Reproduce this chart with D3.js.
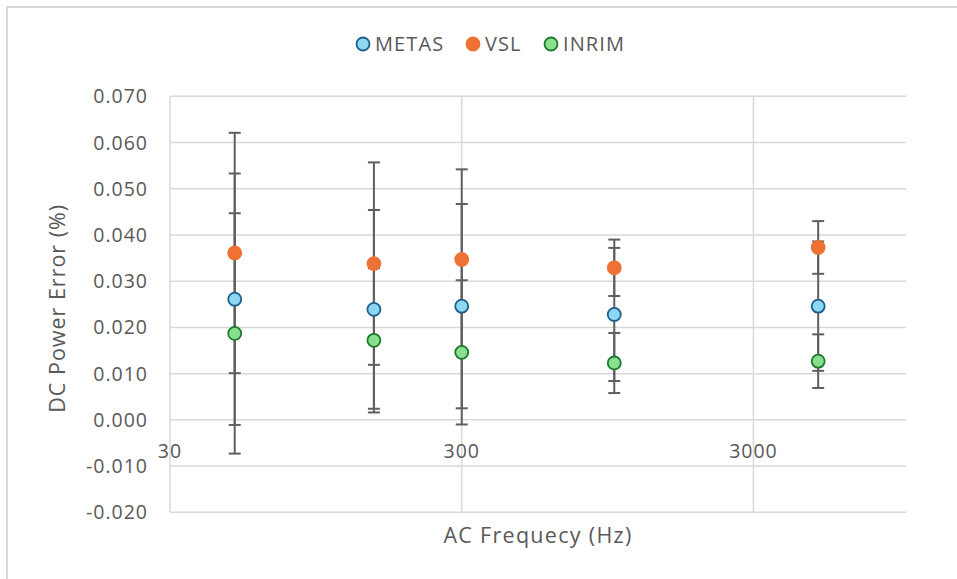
<!DOCTYPE html>
<html lang="en">
<head>
    <meta charset="UTF-8">
    <script src="https://d3js.org/d3.v7.min.js"></script>
    <style>
        body { margin: 0; background: #fff; }
        text { font-family: "Open Sans", Roboto, sans-serif; fill: #595959; }
    </style>
</head>
<body>
    <svg width="957" height="579" id="chart"></svg>

    <script>
    // Data
    const frequencies = [50, 150, 300, 1000, 5000];
    const seriesNames = ["METAS", "VSL", "INRIM"];
    const metasValues = [0.0261, 0.0239, 0.0246, 0.0228, 0.0246];
    const metasErrors = [0.0272, 0.0215, 0.0221, 0.0144, 0.0140];
    const vslValues = [0.0361, 0.0338, 0.0347, 0.0329, 0.0373];
    const vslErrors = [0.0260, 0.0219, 0.0195, 0.0061, 0.0057];
    const inrimValues = [0.0187, 0.0172, 0.0146, 0.0123, 0.0127];
    const inrimErrors = [0.0260, 0.0156, 0.0156, 0.0065, 0.0058];
    const xTicks = [30, 300, 3000];
    const yTicks = [-0.02, -0.01, 0, 0.01, 0.02, 0.03, 0.04, 0.05, 0.06, 0.07];

    const series = [
        { name: "METAS", values: metasValues, errors: metasErrors, fill: "#8dd6f4", stroke: "#1d5f8a" },
        { name: "VSL", values: vslValues, errors: vslErrors, fill: "#ed7234", stroke: "#ed7234" },
        { name: "INRIM", values: inrimValues, errors: inrimErrors, fill: "#88e08f", stroke: "#1e7a2c" }
    ];

    const svg = d3.select("#chart");
    const plot = { left: 170, right: 906, top: 96.3, bottom: 512.3 };

    // outer chart border
    svg.append("rect")
        .attr("x", 7).attr("y", 7)
        .attr("width", 980).attr("height", 600)
        .attr("fill", "none")
        .attr("stroke", "#d9d9d9")
        .attr("stroke-width", 2);

    const xScale = d3.scaleLog().domain([30, 10000]).range([plot.left, plot.right]);
    const yScale = d3.scaleLinear().domain([-0.02, 0.07]).range([plot.bottom, plot.top]);

    // horizontal gridlines
    svg.append("g")
        .selectAll("line")
        .data(yTicks)
        .enter().append("line")
        .attr("x1", plot.left).attr("x2", plot.right)
        .attr("y1", d => yScale(d)).attr("y2", d => yScale(d))
        .attr("stroke", "#d9d9d9")
        .attr("stroke-width", 1.5);

    // vertical gridlines
    svg.append("g")
        .selectAll("line")
        .data(xTicks)
        .enter().append("line")
        .attr("x1", d => xScale(d)).attr("x2", d => xScale(d))
        .attr("y1", plot.top).attr("y2", plot.bottom)
        .attr("stroke", "#d9d9d9")
        .attr("stroke-width", 1.5);

    // y tick labels
    svg.append("g")
        .selectAll("text")
        .data(yTicks)
        .enter().append("text")
        .attr("x", 148)
        .attr("y", d => yScale(d) + 7)
        .attr("text-anchor", "end")
        .style("font-size", "19.5px")
        .style("letter-spacing", "1px")
        .text(d => d3.format(".3f")(d).replace("−", "-"));

    // x tick labels (next to the axis at y = 0)
    svg.append("g")
        .selectAll("text")
        .data(xTicks)
        .enter().append("text")
        .attr("x", d => xScale(d))
        .attr("y", yScale(0) + 38)
        .attr("text-anchor", "middle")
        .style("font-size", "19.5px")
        .style("letter-spacing", "1px")
        .text(d => d);

    // error bars
    const capHalf = 6;
    series.forEach(function(s) {
        const g = svg.append("g");
        frequencies.forEach(function(f, i) {
            const x = xScale(f);
            const yTop = yScale(s.values[i] + s.errors[i]);
            const yBot = yScale(s.values[i] - s.errors[i]);
            g.append("line")
                .attr("x1", x).attr("x2", x).attr("y1", yTop).attr("y2", yBot)
                .attr("stroke", "#5f5f5f").attr("stroke-width", 2);
            [yTop, yBot].forEach(function(y) {
                g.append("line")
                    .attr("x1", x - capHalf).attr("x2", x + capHalf)
                    .attr("y1", y).attr("y2", y)
                    .attr("stroke", "#5f5f5f").attr("stroke-width", 2);
            });
        });
    });

    // markers
    series.forEach(function(s) {
        svg.append("g")
            .selectAll("circle")
            .data(frequencies)
            .enter().append("circle")
            .attr("cx", d => xScale(d))
            .attr("cy", (d, i) => yScale(s.values[i]))
            .attr("r", 6.5)
            .attr("fill", s.fill)
            .attr("stroke", s.stroke)
            .attr("stroke-width", 1.8);
    });

    // legend
    const legendX = [363, 473, 551];
    series.forEach(function(s, i) {
        svg.append("circle")
            .attr("cx", legendX[i]).attr("cy", 44)
            .attr("r", 6.5)
            .attr("fill", s.fill)
            .attr("stroke", s.stroke)
            .attr("stroke-width", 1.8);
        svg.append("text")
            .attr("x", legendX[i] + 12)
            .attr("y", 51)
            .style("font-size", "20px")
            .style("letter-spacing", "1.1px")
            .text(seriesNames[i]);
    });

    // axis titles
    svg.append("text")
        .attr("x", (plot.left + plot.right) / 2)
        .attr("y", 543)
        .attr("text-anchor", "middle")
        .style("font-size", "21.5px")
        .style("letter-spacing", "1.3px")
        .text("AC Frequecy (Hz)");

    svg.append("text")
        .attr("transform", "translate(65," + ((plot.top + plot.bottom) / 2 + 4) + ") rotate(-90)")
        .attr("text-anchor", "middle")
        .style("font-size", "21.5px")
        .style("letter-spacing", "1px")
        .text("DC Power Error (%)");
    </script>
</body>
</html>
